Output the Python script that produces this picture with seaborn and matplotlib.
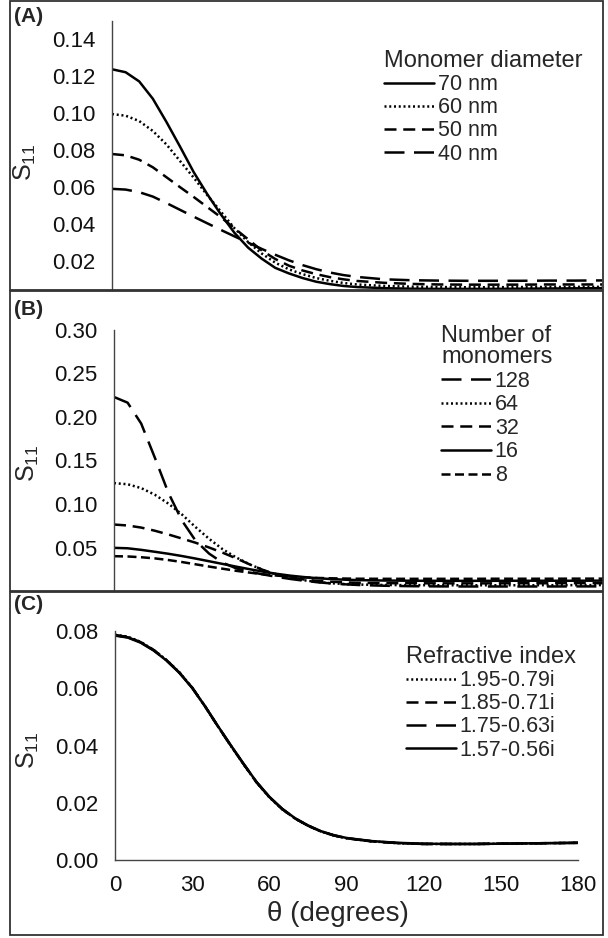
import numpy as np
import pandas as pd
import matplotlib
matplotlib.use("Agg")
import matplotlib.pyplot as plt
import seaborn as sns
from matplotlib.patches import Rectangle

# ---------------- data ----------------
theta = [0, 5, 10, 15, 20, 25, 30, 35, 40, 45, 50, 55, 60, 65, 70, 75, 80, 85, 90,
         100, 110, 120, 130, 140, 150, 160, 170, 180]

# Panel A: monomer diameter
a_labels = ["70 nm", "60 nm", "50 nm", "40 nm"]
a_70 = [0.1238, 0.1222, 0.1172, 0.1078, 0.0952, 0.0818, 0.0680, 0.0560, 0.0450, 0.0350,
        0.0270, 0.0210, 0.0160, 0.0130, 0.0105, 0.0085, 0.0072, 0.0062, 0.0056,
        0.0050, 0.0047, 0.0046, 0.0046, 0.0046, 0.0047, 0.0048, 0.0049, 0.0050]
a_60 = [0.0995, 0.0986, 0.0957, 0.0903, 0.0830, 0.0740, 0.0650, 0.0555, 0.0465, 0.0375,
        0.0300, 0.0238, 0.0188, 0.0152, 0.0126, 0.0105, 0.0090, 0.0078, 0.0070,
        0.0062, 0.0058, 0.0056, 0.0055, 0.0055, 0.0056, 0.0056, 0.0057, 0.0057]
a_50 = [0.0778, 0.0771, 0.0747, 0.0706, 0.0652, 0.0598, 0.0545, 0.0490, 0.0435, 0.0375,
        0.0315, 0.0255, 0.0208, 0.0172, 0.0146, 0.0126, 0.0110, 0.0098, 0.0089,
        0.0079, 0.0073, 0.0070, 0.0069, 0.0069, 0.0069, 0.0070, 0.0070, 0.0070]
a_40 = [0.0589, 0.0585, 0.0571, 0.0547, 0.0512, 0.0475, 0.0438, 0.0402, 0.0366, 0.0331,
        0.0297, 0.0263, 0.0231, 0.0201, 0.0175, 0.0153, 0.0135, 0.0121, 0.0111,
        0.0098, 0.0093, 0.0091, 0.0090, 0.0090, 0.0090, 0.0091, 0.0091, 0.0092]

# Panel B: number of monomers
b_labels = ["128", "64", "32", "16", "8"]
b_128 = [0.2230, 0.2165, 0.1925, 0.1535, 0.1130, 0.0810, 0.0580, 0.0430, 0.0325, 0.0260,
         0.0220, 0.0190, 0.0162, 0.0138, 0.0118, 0.0100, 0.0087, 0.0077, 0.0069,
         0.0060, 0.0055, 0.0053, 0.0052, 0.0052, 0.0052, 0.0052, 0.0053, 0.0053]
b_64 = [0.1240, 0.1227, 0.1183, 0.1107, 0.1005, 0.0880, 0.0735, 0.0600, 0.0480, 0.0385,
        0.0305, 0.0240, 0.0185, 0.0150, 0.0123, 0.0103, 0.0089, 0.0080, 0.0074,
        0.0069, 0.0067, 0.0066, 0.0066, 0.0066, 0.0066, 0.0067, 0.0067, 0.0068]
b_32 = [0.0764, 0.0753, 0.0729, 0.0693, 0.0650, 0.0603, 0.0555, 0.0500, 0.0440, 0.0375,
        0.0305, 0.0240, 0.0190, 0.0155, 0.0132, 0.0116, 0.0106, 0.0099, 0.0094,
        0.0090, 0.0089, 0.0088, 0.0088, 0.0088, 0.0089, 0.0089, 0.0090, 0.0090]
b_16 = [0.0496, 0.0491, 0.0473, 0.0451, 0.0428, 0.0402, 0.0373, 0.0342, 0.0311, 0.0280,
        0.0250, 0.0222, 0.0197, 0.0176, 0.0160, 0.0147, 0.0137, 0.0130, 0.0125,
        0.0120, 0.0118, 0.0117, 0.0117, 0.0117, 0.0118, 0.0118, 0.0118, 0.0119]
b_8 = [0.0400, 0.0397, 0.0388, 0.0375, 0.0356, 0.0333, 0.0307, 0.0281, 0.0256, 0.0232,
       0.0211, 0.0192, 0.0177, 0.0165, 0.0156, 0.0150, 0.0146, 0.0143, 0.0141,
       0.0140, 0.0140, 0.0140, 0.0140, 0.0141, 0.0141, 0.0141, 0.0142, 0.0142]

# Panel C: refractive index
c_labels = ["1.95-0.79i", "1.85-0.71i", "1.75-0.63i", "1.57-0.56i"]
c_195 = [0.0787, 0.0780, 0.0762, 0.0734, 0.0699, 0.0656, 0.0602, 0.0537, 0.0467, 0.0399,
         0.0334, 0.0271, 0.0219, 0.0177, 0.0145, 0.0120, 0.0100, 0.0086, 0.0076,
         0.0065, 0.0059, 0.0056, 0.0056, 0.0056, 0.0057, 0.0058, 0.0059, 0.0060]
c_185 = [0.0786, 0.0779, 0.0761, 0.0734, 0.0698, 0.0655, 0.0602, 0.0537, 0.0467, 0.0400,
         0.0335, 0.0272, 0.0220, 0.0178, 0.0145, 0.0120, 0.0100, 0.0086, 0.0076,
         0.0065, 0.0059, 0.0056, 0.0056, 0.0056, 0.0057, 0.0058, 0.0059, 0.0060]
c_175 = [0.0785, 0.0778, 0.0760, 0.0733, 0.0698, 0.0655, 0.0602, 0.0537, 0.0467, 0.0400,
         0.0335, 0.0272, 0.0220, 0.0178, 0.0145, 0.0120, 0.0100, 0.0086, 0.0076,
         0.0065, 0.0059, 0.0056, 0.0056, 0.0056, 0.0057, 0.0058, 0.0059, 0.0060]
c_157 = [0.0784, 0.0777, 0.0759, 0.0732, 0.0697, 0.0654, 0.0601, 0.0537, 0.0468, 0.0401,
         0.0336, 0.0273, 0.0221, 0.0179, 0.0146, 0.0121, 0.0101, 0.0087, 0.0077,
         0.0066, 0.0060, 0.0057, 0.0056, 0.0056, 0.0057, 0.0058, 0.0059, 0.0060]

x_ticks = [0, 30, 60, 90, 120, 150, 180]
a_yticks = [0.02, 0.04, 0.06, 0.08, 0.10, 0.12, 0.14]
b_yticks = [0.05, 0.10, 0.15, 0.20, 0.25, 0.30]
c_yticks = [0.00, 0.02, 0.04, 0.06, 0.08]


def long_df(labels, series):
    frames = [pd.DataFrame({"theta": theta, "S11": s, "series": lab})
              for lab, s in zip(labels, series)]
    return pd.concat(frames, ignore_index=True)


df_a = long_df(a_labels, [a_70, a_60, a_50, a_40])
df_b = long_df(b_labels, [b_128, b_64, b_32, b_16, b_8])
df_c = long_df(c_labels, [c_195, c_185, c_175, c_157])

# ---------------- style ----------------
sns.set_style("white")
plt.rcParams["font.family"] = ["Liberation Sans", "DejaVu Sans"]
plt.rcParams["mathtext.fontset"] = "custom"
plt.rcParams["mathtext.rm"] = "Liberation Sans"
plt.rcParams["mathtext.it"] = "Liberation Sans:italic"

SOLID = ""
DOT = (0.8, 1.1)
DASH = (4.8, 2.7)
LDASH = (8.0, 3.8)
FDASH = (3.6, 1.8)

W, H = 608, 938
fig = plt.figure(figsize=(W / 100, H / 100), dpi=100)


def px_axes(l, t, r, b):
    return fig.add_axes([l / W, 1 - b / H, (r - l) / W, (b - t) / H])


# panel frames
for (t, b) in [(1, 290), (291, 591), (592, 935)]:
    fig.patches.append(Rectangle((10 / W, 1 - b / H), (603 - 10) / W, (b - t) / H,
                                 transform=fig.transFigure, fill=False,
                                 edgecolor="#333333", linewidth=1.3, zorder=0))

LW = 1.8
TICK_FS = 16
LEG_FS = 15.5
TITLE_FS = 17
YLAB_FS = 18


def style_axes(ax, yticks, ylim, show_x):
    ax.set_xlim(0, 180)
    ax.set_ylim(*ylim)
    ax.set_yticks(yticks)
    ax.set_yticklabels([f"{v:.2f}" for v in yticks])
    for s in ["top", "right"]:
        ax.spines[s].set_visible(False)
    ax.spines["left"].set_color("#444444")
    ax.spines["left"].set_linewidth(1.0)
    ax.tick_params(axis="y", length=0, pad=12, labelsize=TICK_FS, colors="#111111")
    if show_x:
        ax.spines["bottom"].set_color("#444444")
        ax.spines["bottom"].set_linewidth(1.0)
        ax.set_xticks(x_ticks)
        ax.tick_params(axis="x", direction="in", length=4, width=1.0, pad=11,
                       labelsize=TICK_FS, colors="#444444", labelcolor="#111111")
    else:
        ax.spines["bottom"].set_visible(False)
        ax.set_xticks([])
    ax.set_xlabel("")
    ax.set_ylabel(r"S$_{\mathrm{11}}$", fontsize=YLAB_FS)
    ax.yaxis.label.set(ha="center", va="center", rotation_mode="anchor")
    ax.patch.set_alpha(0)


def add_legend(ax, title, anchor_px, spacing):
    h, l = ax.get_legend_handles_labels()
    leg = ax.legend(h, l, title=title, loc="upper left",
                    bbox_to_anchor=(anchor_px[0] / W, 1 - anchor_px[1] / H),
                    bbox_transform=fig.transFigure, frameon=False,
                    fontsize=LEG_FS, title_fontsize=TITLE_FS,
                    handlelength=2.3, handletextpad=0.2, labelspacing=spacing,
                    borderpad=0, borderaxespad=0, alignment="left")
    leg.get_title().set_linespacing(0.95)
    return leg


# ---------------- panel A ----------------
axA = px_axes(112, 21, 602, 290)
sns.lineplot(data=df_a, x="theta", y="S11", style="series", style_order=a_labels,
             dashes={"70 nm": SOLID, "60 nm": DOT, "50 nm": DASH, "40 nm": LDASH},
             color="black", linewidth=LW, ax=axA, legend="full")
style_axes(axA, a_yticks, (0.004, 0.15), False)
axA.yaxis.set_label_coords(25 / W, 1 - 162 / H, transform=fig.transFigure)
add_legend(axA, "Monomer diameter", (384, 50), 0.1)
fig.text(14 / W, 1 - 7 / H, "(A)", fontsize=15, fontweight="bold", ha="left", va="top")

# ---------------- panel B ----------------
axB = px_axes(114, 330, 603, 591)
sns.lineplot(data=df_b, x="theta", y="S11", style="series", style_order=b_labels,
             dashes={"128": LDASH, "64": DOT, "32": DASH, "16": SOLID, "8": FDASH},
             color="black", linewidth=LW, ax=axB, legend="full")
style_axes(axB, b_yticks, (0.0, 0.30), False)
axB.yaxis.set_label_coords(28 / W, 1 - 463 / H, transform=fig.transFigure)
add_legend(axB, "Number of\nmonomers", (441, 325), 0.12)
fig.text(14 / W, 1 - 300 / H, "(B)", fontsize=15, fontweight="bold", ha="left", va="top")

# ---------------- panel C ----------------
axC = px_axes(115, 631, 578, 860)
sns.lineplot(data=df_c, x="theta", y="S11", style="series", style_order=c_labels,
             dashes={"1.95-0.79i": DOT, "1.85-0.71i": DASH, "1.75-0.63i": LDASH,
                     "1.57-0.56i": SOLID},
             color="black", linewidth=LW, ax=axC, legend="full")
style_axes(axC, c_yticks, (0.0, 0.08), True)
axC.yaxis.set_label_coords(28 / W, 1 - 750 / H, transform=fig.transFigure)
axC.set_xlabel("\u03b8 (degrees)", fontsize=20)
axC.xaxis.label.set(va="center", ha="center")
axC.xaxis.set_label_coords(338 / W, 1 - 914 / H, transform=fig.transFigure)
add_legend(axC, "Refractive index", (406, 646), 0.1)
fig.text(14 / W, 1 - 595 / H, "(C)", fontsize=15, fontweight="bold", ha="left", va="top")

fig.savefig("out.png", dpi=100)
